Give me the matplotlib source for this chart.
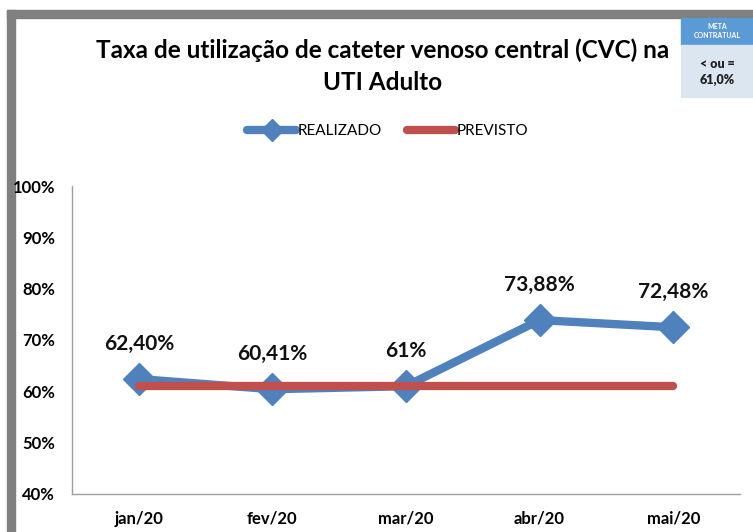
import matplotlib.pyplot as plt
import matplotlib.patches as mpatches
import numpy as np

# chart data
months = ["jan/20", "fev/20", "mar/20", "abr/20", "mai/20"]
realizado = [62.40, 60.41, 61.0, 73.88, 72.48]
previsto = [61.0, 61.0, 61.0, 61.0, 61.0]
labels = ["62,40%", "60,41%", "61%", "73,88%", "72,48%"]
yticks = [40, 50, 60, 70, 80, 90, 100]

plt.rcParams['font.family'] = ['Lato', 'DejaVu Sans']

W, H = 753, 532
fig = plt.figure(figsize=(W / 100, H / 100), dpi=100)
fig.patch.set_facecolor("white")

# grey frame around the chart (top and left bars), drawn under the axes
fig.patches.append(mpatches.Rectangle((7 / W, 1 - 18 / H), 1 - 7 / W, 8 / H,
                                      transform=fig.transFigure, color="#808080", zorder=-1))
fig.patches.append(mpatches.Rectangle((7 / W, 0), 8 / W, 1 - 10 / H,
                                      transform=fig.transFigure, color="#808080", zorder=-1))

# axes area
left, right, top, bottom = 72, 740, 186, 494
ax = fig.add_axes([left / W, 1 - bottom / H, (right - left) / W, (bottom - top) / H])
ax.patch.set_alpha(0)
x = np.arange(len(months))

ax.plot(x, realizado, color="#4F81BD", lw=6, marker="D", markersize=16,
        solid_capstyle="round", solid_joinstyle="round", zorder=3, label="REALIZADO")
ax.plot(x, previsto, color="#C0504D", lw=6, solid_capstyle="round", zorder=4, label="PREVISTO")

for xi, yi, lab in zip(x, realizado, labels):
    ax.annotate(lab, (xi, yi), xytext=(0, 18), textcoords="offset points",
                ha="center", va="bottom", fontsize=15, fontweight="bold", color="#111111")

ax.set_xlim(-0.5, len(months) - 0.5)
ax.set_ylim(40, 100)
ax.set_xticks(x)
ax.set_xticklabels(months, fontsize=12, fontweight="bold")
ax.set_yticks(yticks)
ax.set_yticklabels([f"{v}%" for v in yticks], fontsize=12, fontweight="bold")
ax.tick_params(axis="x", length=0, pad=12)
ax.tick_params(axis="y", length=0, pad=12)
for s in ["top", "right"]:
    ax.spines[s].set_visible(False)
for s in ["left", "bottom"]:
    ax.spines[s].set_color("#A0A0A0")
    ax.spines[s].set_linewidth(1)

# title
fig.text(383 / W, 1 - 50 / H, "Taxa de utilização de cateter venoso central (CVC) na",
         ha="center", va="center", fontsize=17.5, fontweight="bold")
fig.text(383 / W, 1 - 83 / H, "UTI Adulto", ha="center", va="center",
         fontsize=17.5, fontweight="bold")

# legend
leg = fig.legend(loc="center", bbox_to_anchor=(388 / W, 1 - 131 / H), ncol=2, frameon=False,
                 fontsize=11, handlelength=3.2, handletextpad=0.1, columnspacing=1.6,
                 markerscale=0.7)

# meta contratual box
fig.patches.append(mpatches.Rectangle((681 / W, 1 - 45 / H), 72 / W, 27 / H,
                                      transform=fig.transFigure, color="#5B9BD5", zorder=1))
fig.patches.append(mpatches.Rectangle((681 / W, 1 - 97 / H), 72 / W, 52 / H,
                                      transform=fig.transFigure, color="#DCE6F1", zorder=1))
fig.text(717 / W, 1 - 31 / H, "META\nCONTRATUAL", ha="center", va="center",
         fontsize=5, color="white", fontweight="bold", linespacing=1.2)
fig.text(717 / W, 1 - 72 / H, "< ou =\n61,0%", ha="center", va="center",
         fontsize=9, color="#222222", fontweight="heavy", linespacing=1.4)

fig.savefig("out.png", dpi=100)
